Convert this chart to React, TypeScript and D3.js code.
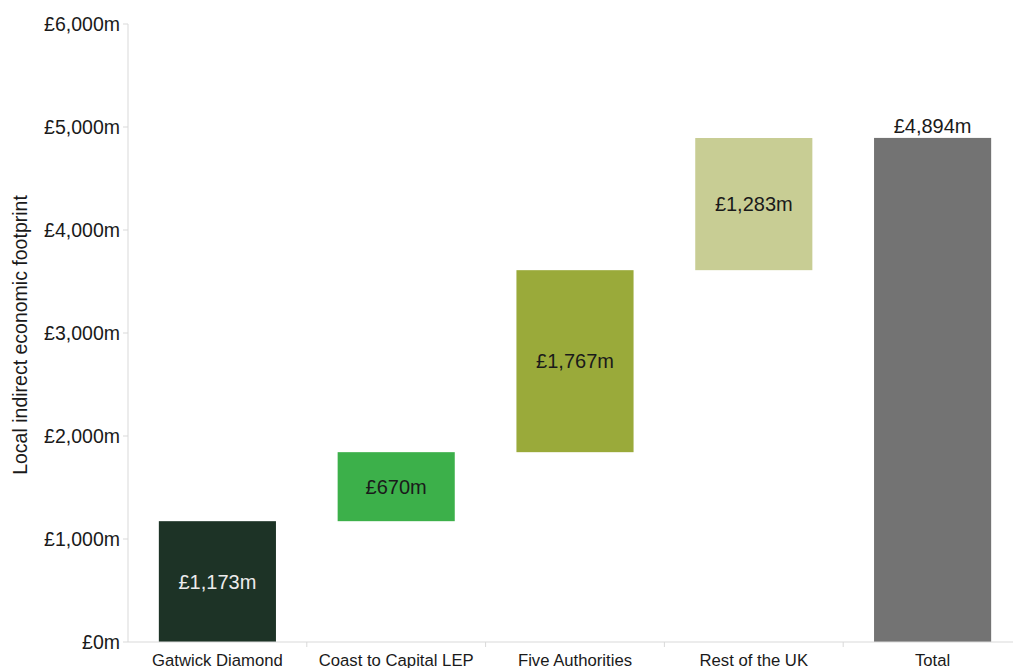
import { useEffect, useRef } from 'react';
import * as d3 from 'd3';

// Waterfall categories and the step each one adds
const categories = ['Gatwick Diamond', 'Coast to Capital LEP', 'Five Authorities', 'Rest of the UK', 'Total'];
const stepValues = [1173, 670, 1767, 1283];
const totalValue = 4894;
const barLabels = ['£1,173m', '£670m', '£1,767m', '£1,283m', '£4,894m'];
const barColors = ['#1d3326', '#3cb04a', '#9aaa3a', '#c8cd94', '#737373'];
const yTicks = [0, 1000, 2000, 3000, 4000, 5000, 6000];

export default function App() {
  const svgRef = useRef<SVGSVGElement | null>(null);

  const width = 1013;
  const height = 668;

  useEffect(() => {
    const svg = d3.select(svgRef.current);
    svg.selectAll('*').remove();

    const font = '"Liberation Sans", Arial, sans-serif';

    // Scales
    const x = d3
      .scaleBand()
      .domain(categories)
      .range([128, 1022])
      .paddingInner(0.345)
      .paddingOuter(0.1725);

    const y = d3.scaleLinear().domain([0, 6000]).range([642, 24]);

    // Build floating segments: start / end for each bar
    let running = 0;
    const segments = categories.map((c, i) => {
      if (i < stepValues.length) {
        const start = running;
        running += stepValues[i];
        return { cat: c, start, end: running, label: barLabels[i], color: barColors[i], total: false };
      }
      return { cat: c, start: 0, end: totalValue, label: barLabels[i], color: barColors[i], total: true };
    });

    // Bars
    svg
      .selectAll('.bar')
      .data(segments)
      .enter()
      .append('rect')
      .attr('class', 'bar')
      .attr('x', (d) => x(d.cat)!)
      .attr('width', x.bandwidth())
      .attr('y', (d) => y(d.end))
      .attr('height', (d) => y(d.start) - y(d.end))
      .attr('fill', (d) => d.color);

    // Bar value labels
    svg
      .selectAll('.bar-label')
      .data(segments)
      .enter()
      .append('text')
      .attr('class', 'bar-label')
      .attr('x', (d) => x(d.cat)! + x.bandwidth() / 2)
      .attr('y', (d) => (d.total ? y(d.end) - 5 : y((d.start + d.end) / 2)))
      .attr('dy', (d) => (d.total ? '0' : '0.35em'))
      .attr('text-anchor', 'middle')
      .style('font-family', font)
      .style('font-size', '20px')
      .attr('fill', (d, i) => (i === 0 ? '#ececec' : '#1a1a1a'))
      .text((d) => d.label);

    // Y axis
    const yAxis = svg.append('g').attr('transform', 'translate(128,0)');
    yAxis
      .append('line')
      .attr('x1', 0)
      .attr('x2', 0)
      .attr('y1', y(6000))
      .attr('y2', y(0))
      .attr('stroke', '#d9d9d9');
    yAxis
      .selectAll('.ytick')
      .data(yTicks)
      .enter()
      .append('line')
      .attr('x1', -5)
      .attr('x2', 0)
      .attr('y1', (d) => y(d))
      .attr('y2', (d) => y(d))
      .attr('stroke', '#d9d9d9');
    yAxis
      .selectAll('.ylabel')
      .data(yTicks)
      .enter()
      .append('text')
      .attr('x', -8)
      .attr('y', (d) => y(d))
      .attr('dy', '0.35em')
      .attr('text-anchor', 'end')
      .style('font-family', font)
      .style('font-size', '19.5px')
      .attr('fill', '#1a1a1a')
      .text((d) => `£${d3.format(',')(d)}m`);

    // X axis line with ticks at band boundaries
    const step = x.step();
    const boundaries = categories.map((c) => x(c)! - (step * x.paddingInner()) / 2).concat([x('Total')! + x.bandwidth() + (step * x.paddingInner()) / 2]);
    svg
      .append('line')
      .attr('x1', 128)
      .attr('x2', 1022)
      .attr('y1', y(0))
      .attr('y2', y(0))
      .attr('stroke', '#d9d9d9');
    svg
      .selectAll('.xtick')
      .data(boundaries.slice(1))
      .enter()
      .append('line')
      .attr('x1', (d) => d)
      .attr('x2', (d) => d)
      .attr('y1', y(0))
      .attr('y2', y(0) + 5)
      .attr('stroke', '#d9d9d9');
    svg
      .selectAll('.xlabel')
      .data(categories)
      .enter()
      .append('text')
      .attr('x', (d) => x(d)! + x.bandwidth() / 2)
      .attr('y', 666)
      .attr('text-anchor', 'middle')
      .style('font-family', font)
      .style('font-size', '16.7px')
      .attr('fill', '#1a1a1a')
      .text((d) => d);

    // Y axis title
    svg
      .append('text')
      .attr('transform', `translate(27,${(195 + 475) / 2}) rotate(-90)`)
      .attr('text-anchor', 'middle')
      .style('font-family', font)
      .style('font-size', '19.5px')
      .attr('fill', '#1a1a1a')
      .text('Local indirect economic footprint');
  }, []);

  return (
    <svg
      ref={svgRef}
      width={width}
      height={height}
      style={{ position: 'absolute', left: 0, top: 0, background: '#fff' }}
    ></svg>
  );
}
